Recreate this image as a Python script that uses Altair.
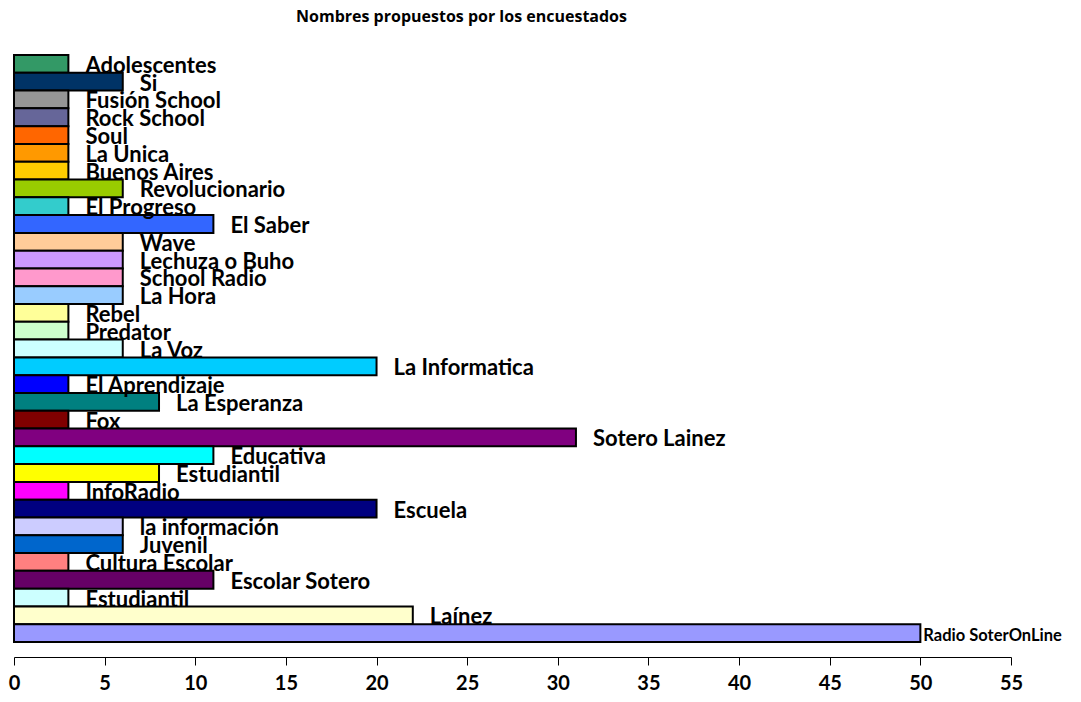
import altair as alt
import pandas as pd

names = ["Adolescentes", "Si", "Fusión School", "Rock School", "Soul", "La Unica",
         "Buenos Aires", "Revolucionario", "El Progreso", "El Saber", "Wave",
         "Lechuza o Buho", "School Radio", "La Hora", "Rebel", "Predator", "La Voz",
         "La Informatica", "El Aprendizaje", "La Esperanza", "Fox", "Sotero Lainez",
         "Educativa", "Estudiantil", "InfoRadio", "Escuela", "la información",
         "Juvenil", "Cultura Escolar", "Escolar Sotero", "Estudiantil", "Laínez",
         "Radio SoterOnLine"]
values = [3, 6, 3, 3, 3, 3, 3, 6, 3, 11, 6, 6, 6, 6, 3, 3, 6, 20, 3, 8, 3, 31,
          11, 8, 3, 20, 6, 6, 3, 11, 3, 22, 50]
colors = ["#339966", "#003366", "#969696", "#666699", "#FF6600", "#FF9900",
          "#FFCC00", "#99CC00", "#33CCCC", "#3366FF", "#FFCC99", "#CC99FF",
          "#FF99CC", "#99CCFF", "#FFFF99", "#CCFFCC", "#CCFFFF", "#00CCFF",
          "#0000FF", "#008080", "#800000", "#800080", "#00FFFF", "#FFFF00",
          "#FF00FF", "#000080", "#CCCCFF", "#0066CC", "#FF8080", "#660066",
          "#CCFFFF", "#FFFFCC", "#9999FF"]
x_ticks = [0, 5, 10, 15, 20, 25, 30, 35, 40, 45, 50, 55]

df = pd.DataFrame({
    "key": [f"{i:02d}" for i in range(len(names))],
    "name": names,
    "value": values,
    "color": colors,
})

FONT = "Lato"

y_enc = alt.Y("key:N", axis=None,
              scale=alt.Scale(paddingInner=0, paddingOuter=0),
              sort=None)

bars = alt.Chart(df).mark_bar(stroke="black", strokeWidth=2).encode(
    x=alt.X("value:Q",
            scale=alt.Scale(domain=[0, 55], nice=False),
            axis=alt.Axis(values=x_ticks, grid=False, offset=15,
                          domainColor="black", domainWidth=1,
                          tickColor="black", tickSize=8, tickWidth=1,
                          labelFont=FONT, labelFontSize=20, labelFontWeight="bold",
                          labelColor="black", labelPadding=8, title=None,
                          labelFlush=False)),
    y=y_enc,
    color=alt.Color("color:N", scale=None),
)

labels = alt.Chart(df).transform_filter("datum.value < 50").mark_text(
    align="left", baseline="middle", dx=17, dy=2,
    font=FONT, fontSize=22, fontWeight="bold", color="black"
).encode(x="value:Q", y=y_enc, text="name:N")

big_label = alt.Chart(df).transform_filter("datum.value >= 50").mark_text(
    align="left", baseline="middle", dx=3, dy=3,
    font=FONT, fontSize=16.5, fontWeight="bold", color="black"
).encode(x="value:Q", y=y_enc, text="name:N")

chart = (bars + labels + big_label).properties(
    width=997, height=587,
    title=alt.TitleParams("Nombres propuestos por los encuestados",
                          font="Open Sans", fontSize=16, fontWeight="bold",
                          color="black", anchor="middle", dx=-51, offset=29),
    autosize=alt.AutoSizeParams(type="none"),
    padding={"left": 6, "top": 47, "right": 62, "bottom": 52},
).configure_view(stroke=None)

chart.save("out.html", embed_options={"renderer": "svg", "actions": False})
